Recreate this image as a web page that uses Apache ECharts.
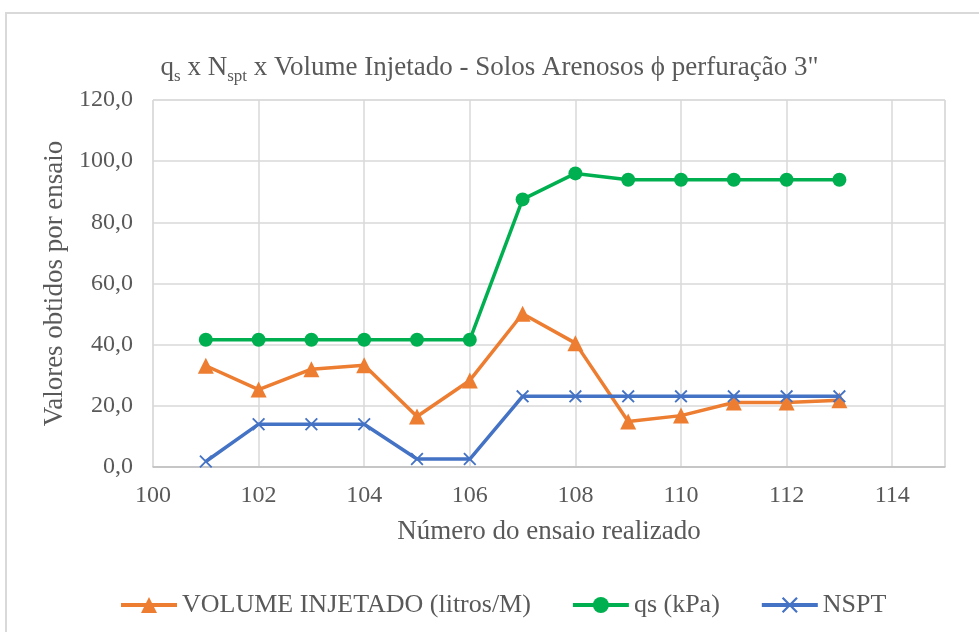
<!DOCTYPE html>
<html>
<head>
<meta charset="utf-8">
<script src="https://cdn.jsdelivr.net/npm/echarts@6/dist/echarts.min.js"></script>
<style>
html,body{margin:0;padding:0;background:#fff;}
#chart{width:979px;height:632px;}
</style>
</head>
<body>
<div id="chart"></div>
<script>
// dados
var ensaios = [101, 102, 103, 104, 105, 106, 107, 108, 109, 110, 111, 112, 113];
var volume = [33.1, 25.3, 32.0, 33.3, 16.5, 28.3, 50.1, 40.5, 14.9, 16.8, 21.1, 21.1, 21.8];
var qs = [41.6, 41.6, 41.6, 41.6, 41.6, 41.6, 87.5, 96.0, 93.9, 93.9, 93.9, 93.9, 93.9];
var nspt = [1.8, 14.0, 14.0, 14.0, 2.6, 2.6, 23.1, 23.1, 23.1, 23.1, 23.1, 23.1, 23.1];
var nomes = ['VOLUME INJETADO (litros/M)', 'qs (kPa)', 'NSPT'];

var fonte = "'Liberation Serif', 'Times New Roman', serif";
var cinza = '#595959';

var pares = function(ys){
    return ensaios.map(function(x, i){ return [x, ys[i]]; });
};
var cruz = 'path://M0,1L1,0L5,4L9,0L10,1L6,5L10,9L9,10L5,6L1,10L0,9L4,5Z';

var myChart = echarts.init(document.getElementById('chart'));
myChart.setOption({
    animation: false,
    textStyle: {fontFamily: fonte},
    title: {
        text: 'q{sub|s} x N{sub|spt} x Volume Injetado - Solos Arenosos ϕ perfuração 3"',
        left: 'center',
        top: 46,
        textStyle: {
            fontFamily: fonte,
            fontSize: 27,
            fontWeight: 'normal',
            color: cinza,
            lineHeight: 34,
            rich: {
                sub: {fontFamily: fonte, fontSize: 17, color: cinza, verticalAlign: 'bottom', lineHeight: 18}
            }
        }
    },
    graphic: [{
        type: 'rect',
        shape: {x: 6, y: 13, width: 990, height: 640},
        style: {fill: 'none', stroke: '#d9d9d9', lineWidth: 2},
        silent: true
    }],
    legend: {
        left: 114,
        top: 587,
        itemWidth: 56,
        itemHeight: 20,
        itemGap: 40,
        lineStyle: {width: 4},
        textStyle: {fontFamily: fonte, fontSize: 26, color: cinza},
        data: nomes
    },
    grid: {
        left: 153,
        right: 34,
        top: 100,
        bottom: 165,
        show: true,
        borderColor: '#d9d9d9',
        borderWidth: 1
    },
    xAxis: {
        type: 'value',
        min: 100,
        max: 115,
        interval: 2,
        name: 'Número do ensaio realizado',
        nameLocation: 'middle',
        nameGap: 51,
        nameTextStyle: {fontFamily: fonte, fontSize: 27, color: cinza},
        axisLine: {lineStyle: {color: '#bfbfbf', width: 1.5}},
        axisTick: {show: false},
        axisLabel: {fontFamily: fonte, fontSize: 24, color: cinza, margin: 17,
            formatter: function(v){ return v > 114 ? '' : v; }},
        splitLine: {lineStyle: {color: '#d9d9d9', width: 1.5}}
    },
    yAxis: {
        type: 'value',
        min: 0,
        max: 120,
        interval: 20,
        name: 'Valores obtidos por ensaio',
        nameLocation: 'middle',
        nameGap: 84,
        nameTextStyle: {fontFamily: fonte, fontSize: 27, color: cinza},
        axisLine: {show: false},
        axisTick: {show: false},
        axisLabel: {fontFamily: fonte, fontSize: 24, color: cinza, margin: 20,
            formatter: function(v){ return v.toFixed(1).replace('.', ','); }},
        splitLine: {lineStyle: {color: '#d9d9d9', width: 1.5}}
    },
    series: [{
        name: nomes[0],
        type: 'line',
        data: pares(volume),
        symbol: 'triangle',
        symbolSize: 16,
        lineStyle: {color: '#ED7D31', width: 3.5},
        itemStyle: {color: '#ED7D31'},
        z: 3
    }, {
        name: nomes[1],
        type: 'line',
        data: pares(qs),
        symbol: 'circle',
        symbolSize: 14,
        lineStyle: {color: '#00B050', width: 3.5},
        itemStyle: {color: '#00B050'},
        z: 2
    }, {
        name: nomes[2],
        type: 'line',
        data: pares(nspt),
        symbol: cruz,
        symbolSize: 13,
        lineStyle: {color: '#4472C4', width: 3.5},
        itemStyle: {color: '#4472C4'},
        z: 4
    }]
});
</script>
</body>
</html>
